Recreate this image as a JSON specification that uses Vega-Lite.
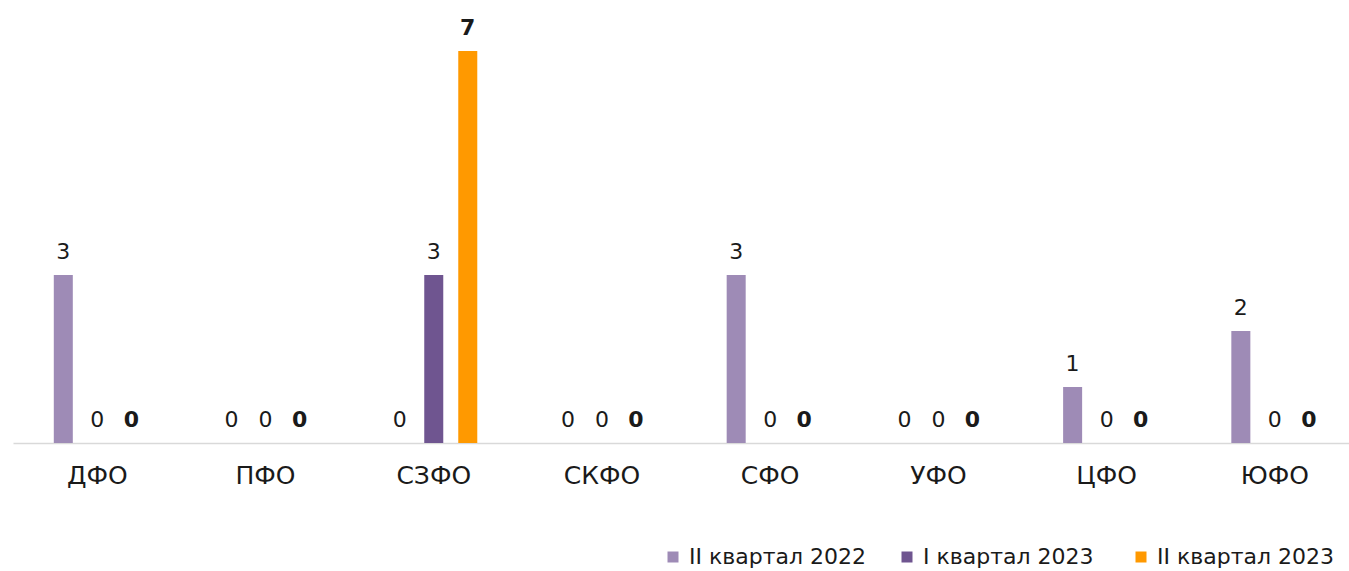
{
  "$schema": "https://vega.github.io/schema/vega-lite/v6.json",
  "width": 1336,
  "height": 420,
  "autosize": {"type": "none"},
  "padding": {"left": 13, "top": 23, "right": 0, "bottom": 128},
  "background": "white",
  "config": {
    "view": {"stroke": null},
    "font": "DejaVu Sans"
  },
  "data": {
    "values": [
      {"region": "ДФО", "series": "II квартал 2022", "value": 3},
      {"region": "ДФО", "series": "I квартал 2023", "value": 0},
      {"region": "ДФО", "series": "II квартал 2023", "value": 0},
      {"region": "ПФО", "series": "II квартал 2022", "value": 0},
      {"region": "ПФО", "series": "I квартал 2023", "value": 0},
      {"region": "ПФО", "series": "II квартал 2023", "value": 0},
      {"region": "СЗФО", "series": "II квартал 2022", "value": 0},
      {"region": "СЗФО", "series": "I квартал 2023", "value": 3},
      {"region": "СЗФО", "series": "II квартал 2023", "value": 7},
      {"region": "СКФО", "series": "II квартал 2022", "value": 0},
      {"region": "СКФО", "series": "I квартал 2023", "value": 0},
      {"region": "СКФО", "series": "II квартал 2023", "value": 0},
      {"region": "СФО", "series": "II квартал 2022", "value": 3},
      {"region": "СФО", "series": "I квартал 2023", "value": 0},
      {"region": "СФО", "series": "II квартал 2023", "value": 0},
      {"region": "УФО", "series": "II квартал 2022", "value": 0},
      {"region": "УФО", "series": "I квартал 2023", "value": 0},
      {"region": "УФО", "series": "II квартал 2023", "value": 0},
      {"region": "ЦФО", "series": "II квартал 2022", "value": 1},
      {"region": "ЦФО", "series": "I квартал 2023", "value": 0},
      {"region": "ЦФО", "series": "II квартал 2023", "value": 0},
      {"region": "ЮФО", "series": "II квартал 2022", "value": 2},
      {"region": "ЮФО", "series": "I квартал 2023", "value": 0},
      {"region": "ЮФО", "series": "II квартал 2023", "value": 0}
    ]
  },
  "encoding": {
    "x": {
      "field": "region",
      "type": "nominal",
      "sort": null,
      "scale": {"paddingInner": 0.394, "paddingOuter": 0.168, "align": 0.59},
      "axis": {
        "title": null,
        "labelAngle": 0,
        "labelFontSize": 25,
        "labelColor": "#1a1a1a",
        "labelPadding": 20,
        "ticks": false,
        "domainColor": "#d9d9d9",
        "domainWidth": 1.5,
        "grid": false
      }
    },
    "xOffset": {
      "field": "series",
      "type": "nominal",
      "sort": ["II квартал 2022", "I квартал 2023", "II квартал 2023"],
      "scale": {"paddingInner": 0.441, "paddingOuter": 0.219}
    },
    "y": {
      "field": "value",
      "type": "quantitative",
      "scale": {"domain": [0, 7.5], "nice": false},
      "axis": null
    }
  },
  "layer": [
    {
      "mark": {"type": "bar"},
      "encoding": {
        "color": {
          "field": "series",
          "type": "nominal",
          "sort": ["II квартал 2022", "I квартал 2023", "II квартал 2023"],
          "scale": {
            "domain": ["II квартал 2022", "I квартал 2023", "II квартал 2023"],
            "range": ["#9e8bb6", "#6f5590", "#ff9900"]
          },
          "legend": {
            "title": null,
            "orient": "none",
            "direction": "horizontal",
            "legendX": 649,
            "legendY": 523,
            "gridAlign": "all",
            "symbolType": "square",
            "symbolSize": 121,
            "symbolStrokeWidth": 0,
            "labelFontSize": 22,
            "labelLimit": 0,
            "labelColor": "#1a1a1a",
            "labelOffset": 5,
            "columnPadding": 29,
            "padding": 0
          }
        }
      }
    },
    {
      "transform": [{"filter": "datum.series !== 'II квартал 2023'"}],
      "mark": {"type": "text", "baseline": "alphabetic", "dy": -16, "fontSize": 22, "color": "#1a1a1a"},
      "encoding": {"text": {"field": "value", "type": "quantitative"}}
    },
    {
      "transform": [{"filter": "datum.series === 'II квартал 2023'"}],
      "mark": {"type": "text", "baseline": "alphabetic", "dy": -16, "fontSize": 22, "fontWeight": "bold", "color": "#1a1a1a"},
      "encoding": {"text": {"field": "value", "type": "quantitative"}}
    }
  ]
}
